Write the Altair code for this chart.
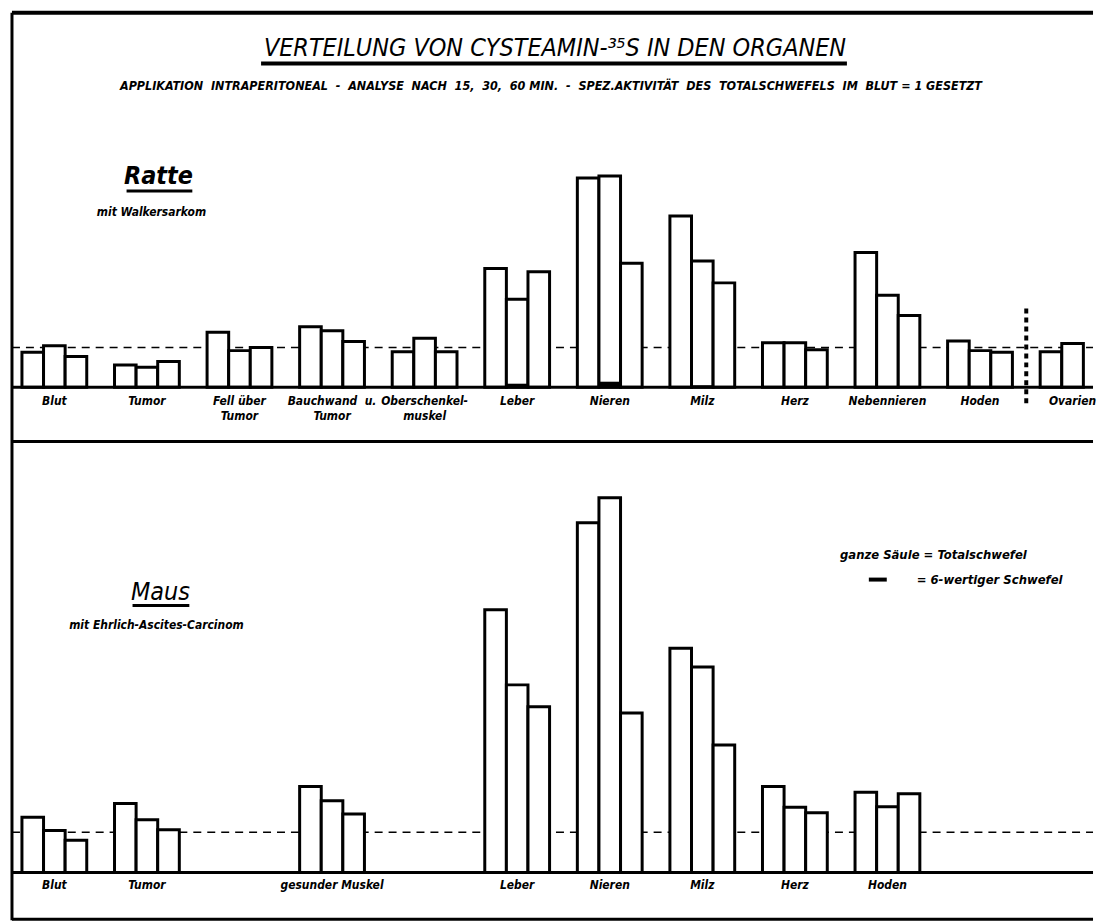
import altair as alt
import pandas as pd

# ---------------- data ----------------
TIMES = ["15 min", "30 min", "60 min"]

RAT_ORGANS = ["Blut", "Tumor", "Fell über Tumor", "Bauchwand u. Tumor",
              "Oberschenkelmuskel", "Leber", "Nieren", "Milz", "Herz",
              "Nebennieren", "Hoden", "Ovarien"]
RAT_LABELS = ["Blut", "Tumor", "Fell über\nTumor", "Bauchwand\u00a0\u00a0u.\nTumor",
              "Oberschenkel-\nmuskel", "Leber", "Nieren", "Milz", "Herz",
              "Nebennieren", "Hoden", "Ovarien"]
RAT_15 = [0.88, 0.56, 1.38, 1.52, 0.89, 2.98, 5.25, 4.30, 1.12, 3.38, 1.16, 0.89]
RAT_30 = [1.04, 0.50, 0.92, 1.42, 1.23, 2.21, 5.30, 3.17, 1.12, 2.31, 0.92, 1.10]
RAT_60 = [0.77, 0.65, 1.00, 1.15, 0.89, 2.90, 3.11, 2.62, 0.94, 1.80, 0.88, None]
# 6-wertiger Schwefel (black foot of the 30-min column)
RAT_S6_30 = [0.03, 0.03, 0.03, 0.03, 0.03, 0.09, 0.14, 0.05, 0.03, 0.03, 0.03, 0.03]

MOUSE_SLOTS = ["Blut", "Tumor", "leer 1", "gesunder Muskel", "leer 2", "Leber",
               "Nieren", "Milz", "Herz", "Hoden", "leer 3", "leer 4"]
MOUSE_ORGANS = ["Blut", "Tumor", "gesunder Muskel", "Leber", "Nieren", "Milz",
                "Herz", "Hoden"]
MOUSE_LABELS = ["Blut", "Tumor", "gesunder Muskel", "Leber", "Nieren", "Milz",
                "Herz", "Hoden"]
MOUSE_15 = [1.37, 1.71, 2.13, 6.51, 8.67, 5.56, 2.13, 1.99]
MOUSE_30 = [1.04, 1.31, 1.78, 4.65, 9.29, 5.09, 1.62, 1.63]
MOUSE_60 = [0.80, 1.06, 1.45, 4.11, 3.95, 3.16, 1.48, 1.95]


def long_frame(organs, series):
    rows = []
    for t, vals in zip(TIMES, series):
        for o, v in zip(organs, vals):
            if v is not None:
                rows.append({"organ": o, "time": t, "value": v})
    return pd.DataFrame(rows)


rat_df = long_frame(RAT_ORGANS, [RAT_15, RAT_30, RAT_60])
rat_s6 = pd.DataFrame({"organ": RAT_ORGANS, "time": "30 min", "value": RAT_S6_30})
rat_lab = pd.DataFrame({"organ": RAT_ORGANS, "label": RAT_LABELS})
mouse_df = long_frame(MOUSE_ORGANS, [MOUSE_15, MOUSE_30, MOUSE_60])
mouse_lab = pd.DataFrame({"organ": MOUSE_ORGANS, "label": MOUSE_LABELS})

# ---------------- styling ----------------
FONT = "Liberation Sans Narrow, DejaVu Sans Condensed, Liberation Sans, sans-serif"
W = 1089
H_TOP = 432
H_BOT = 482
X_RANGE = [14, 1101]
ONE = pd.DataFrame({"k": [0]})
NB2 = "\u00a0\u00a0"


def hrule(y, x0, x1, width, dash=None):
    kw = dict(color="black", strokeWidth=width)
    if dash:
        kw["strokeDash"] = dash
    return alt.Chart(ONE).mark_rule(**kw).encode(
        x=alt.value(x0), x2=alt.value(x1), y=alt.value(y))


def vrule(x, y0, y1, width, dash=None):
    kw = dict(color="black", strokeWidth=width)
    if dash:
        kw["strokeDash"] = dash
    return alt.Chart(ONE).mark_rule(**kw).encode(
        x=alt.value(x), y=alt.value(y0), y2=alt.value(y1))


def label(txt, x, y, size, align="center", weight="bold"):
    return alt.Chart(ONE).mark_text(
        text=txt, font=FONT, fontSize=size, fontStyle="italic", fontWeight=weight,
        align=align, baseline="middle", color="black").encode(
        x=alt.value(x), y=alt.value(y))


def panel(df, domain, ydom, height, labels_df, label_y, s6_df=None, extra=()):
    xs = alt.Scale(domain=domain, range=X_RANGE, paddingInner=0.3, paddingOuter=0)
    ys = alt.Scale(domain=ydom, nice=False, zero=False)
    xo = alt.XOffset("time:N", scale=alt.Scale(domain=TIMES, paddingInner=0, paddingOuter=0))

    dashed = alt.Chart(ONE).mark_rule(color="black", strokeWidth=1.5, strokeDash=[8, 6]).encode(
        y=alt.YDatum(1, scale=ys, axis=None), x=alt.value(4), x2=alt.value(W))
    base = alt.Chart(ONE).mark_rule(color="black", strokeWidth=3).encode(
        y=alt.YDatum(0), x=alt.value(4), x2=alt.value(W))
    bars = alt.Chart(df).mark_bar(fill="white", stroke="black", strokeWidth=3,
                                  strokeJoin="miter").encode(
        x=alt.X("organ:N", scale=xs, axis=None),
        xOffset=xo,
        y=alt.Y("value:Q", scale=ys, axis=None),
        y2=alt.Y2Datum(0),
    )
    layers = [dashed, bars]
    if s6_df is not None:
        layers.append(alt.Chart(s6_df).mark_bar(fill="black").encode(
            x=alt.X("organ:N"), xOffset=alt.XOffset("time:N"),
            y=alt.Y("value:Q"), y2=alt.Y2Datum(0)))
    layers.append(base)
    layers.append(alt.Chart(labels_df).mark_text(
        font=FONT, fontSize=12, fontStyle="italic", fontWeight="bold",
        baseline="top", align="center", lineBreak="\n", lineHeight=15).encode(
        x=alt.X("organ:N"), y=alt.value(label_y), text="label:N"))
    layers.extend(extra)
    return alt.layer(*layers).properties(width=W, height=height)


# ---------------- top panel: Ratte ----------------
subtitle = NB2.join(["APPLIKATION", "INTRAPERITONEAL", "-", "ANALYSE", "NACH", "15,",
                     "30,", "60 MIN.", "-", "SPEZ.AKTIVITÄT", "DES", "TOTALSCHWEFELS",
                     "IM", "BLUT = 1 GESETZT"])

top_extra = [
    vrule(1022, 300, 395, 4, dash=[5, 4]),
    hrule(3, 4, W, 4),
    vrule(4, 3, H_TOP, 3),
    label("VERTEILUNG VON CYSTEAMIN-\u00b3\u2075S IN DEN ORGANEN", 549, 38, 25, weight="normal"),
    hrule(54, 254, 842, 4),
    label(subtitle, 545, 77, 12.5),
    label("Ratte", 151, 167, 25),
    hrule(182, 119, 185, 3),
    label("mit  Walkersarkom", 144, 203, 12),
]

top = panel(rat_df, RAT_ORGANS, [-(H_TOP - 379) / 40.0, 379 / 40.0], H_TOP,
            rat_lab, 388, s6_df=rat_s6, extra=top_extra)

# ---------------- bottom panel: Maus ----------------
bot_extra = [
    hrule(1.5, 4, W, 3),
    hrule(481, 4, W, 3),
    vrule(4, 0, H_BOT, 3),
    label("Maus", 153, 152, 25, weight="normal"),
    hrule(166, 125, 182, 3),
    label("mit  Ehrlich-Ascites-Carcinom", 149, 186, 12),
    label("ganze  Säule = Totalschwefel", 835, 115, 13, align="left"),
    hrule(140, 864, 882, 4),
    label("= 6-wertiger  Schwefel", 912, 140, 13, align="left"),
]

bottom = panel(mouse_df, MOUSE_SLOTS, [-(H_BOT - 434) / 40.5, 434 / 40.5], H_BOT,
               mouse_lab, 442, extra=bot_extra)

chart = alt.vconcat(top, bottom, spacing=0, bounds="flush").properties(
    padding=0, background="white"
).configure_view(stroke=None)

chart.save("out.html", embed_options={"renderer": "svg", "actions": False})
